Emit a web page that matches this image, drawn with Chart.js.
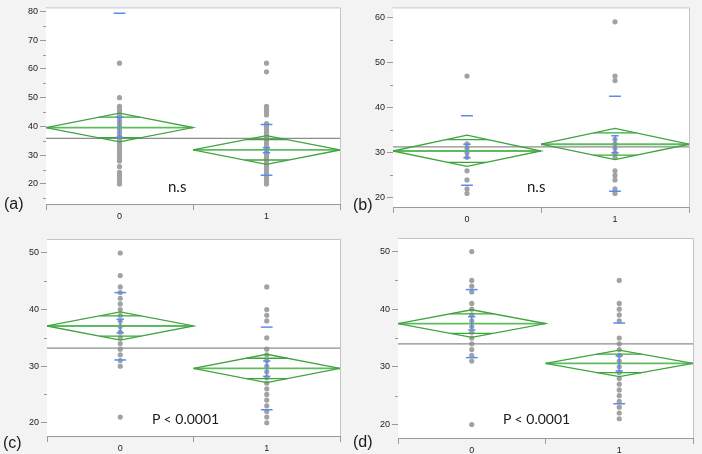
<!DOCTYPE html>
<html><head><meta charset="utf-8">
<script src="https://cdn.jsdelivr.net/npm/chart.js@4"></script>
<style>
html,body{margin:0;padding:0;background:#f3f3f3;}
#wrap{position:relative;width:702px;height:454px;overflow:hidden;background:#f3f3f3;}
canvas{position:absolute;}
.lbl{position:absolute;font-family:"Liberation Sans",Arial,sans-serif;font-size:16px;color:#1a1a1a;line-height:16px;white-space:nowrap;}
.ann{position:absolute;font-family:Lato,"Open Sans",sans-serif;font-size:15px;color:#1a1a1a;line-height:15px;white-space:nowrap;}
.pv{font-size:14px;}
</style></head><body>
<div id="wrap">
<canvas id="ca" width="351" height="227" style="left:0;top:0"></canvas>
<canvas id="cb" width="351" height="227" style="left:351px;top:0"></canvas>
<canvas id="cc" width="351" height="227" style="left:0;top:227px"></canvas>
<canvas id="cd" width="351" height="227" style="left:351px;top:227px"></canvas>
<div class="lbl" style="left:4px;top:196px">(a)</div>
<div class="lbl" style="left:353px;top:197px">(b)</div>
<div class="lbl" style="left:3px;top:435px">(c)</div>
<div class="lbl" style="left:353px;top:434px">(d)</div>
<div class="ann" style="left:168px;top:179px">n.s</div>
<div class="ann" style="left:527px;top:179px">n.s</div>
<div class="ann pv" style="left:152px;top:411px">P &lt; 0.0001</div>
<div class="ann pv" style="left:503px;top:411px">P &lt; 0.0001</div>
</div>
<script>
const categories = ["0", "1"];

// (a)
const a_group0 = [62,50,47,46,45,44,43,42,41,40,39,38,37,36,35,34,33,32,31,30,29,28,26,24,23,22,21,20];
const a_group1 = [62,59,47,46,45,44,41,40,39,38,37,36,35,34,33,32,31,30,29,28,27,26,25,24,23,22,21,20];
const a_means = [39.6, 31.8];
const a_ciHigh = [44.6, 36.8];
const a_ciLow = [34.6, 26.8];
const a_overlapHigh = [43.2, 35.4];
const a_overlapLow = [36.1, 28.3];
const a_sdHigh = [79.4, 40.7];
const a_sdLow = [null, 23.0];
const a_seHigh = [43.3, 32.6];
const a_seLow = [36.2, 30.8];
const a_grandMean = 35.8;

// (b)
const b_group0 = [47,32,31,30,29,26,24,22,21];
const b_group1 = [59,47,46,33,32,31,30,29,26,25,24,22,21];
const b_means = [30.4, 31.9];
const b_ciHigh = [33.9, 35.4];
const b_ciLow = [27.0, 28.5];
const b_overlapHigh = [32.9, 34.4];
const b_overlapLow = [27.9, 29.5];
const b_sdHigh = [38.2, 42.5];
const b_sdLow = [22.8, 21.5];
const b_seHigh = [31.9, 33.8];
const b_seLow = [28.9, 30.0];
const b_grandMean = 31.3;

// (c)
const c_group0 = [50,46,44,43,42,41,40,39,38,37,36,35,34,33,32,31,30,21];
const c_group1 = [44,40,39,38,35,33,32,31,30,29,28,27,26,25,24,23,22,21,20];
const c_means = [37.1, 29.6];
const c_ciHigh = [39.6, 32.1];
const c_ciLow = [34.6, 27.1];
const c_overlapHigh = [38.9, 31.4];
const c_overlapLow = [35.3, 27.8];
const c_sdHigh = [43.0, 36.9];
const c_sdLow = [31.1, 22.3];
const c_seHigh = [38.3, 30.9];
const c_seLow = [35.9, 28.2];
const c_grandMean = 33.2;

// (d)
const d_group0 = [50,45,44,43,41,40,39,38,37,36,35,34,33,32,31,20];
const d_group1 = [45,41,40,39,38,35,34,33,32,31,30,29,28,27,26,25,24,23,22,21];
const d_means = [37.5, 30.6];
const d_ciHigh = [39.9, 32.9];
const d_ciLow = [35.1, 28.3];
const d_overlapHigh = [39.2, 32.2];
const d_overlapLow = [35.8, 29.0];
const d_sdHigh = [43.4, 37.6];
const d_sdLow = [31.6, 23.6];
const d_seHigh = [38.7, 31.9];
const d_seLow = [36.4, 29.3];
const d_grandMean = 34.0;

const panels = [
  {id:'ca', groups:[a_group0,a_group1], means:a_means, ciHigh:a_ciHigh, ciLow:a_ciLow, ovHigh:a_overlapHigh, ovLow:a_overlapLow, sdHigh:a_sdHigh, sdLow:a_sdLow, seHigh:a_seHigh, seLow:a_seLow, grand:a_grandMean,
   yMin:13.0, yMax:81.4, L:46, R:340, T:6, B:204},
  {id:'cb', groups:[b_group0,b_group1], means:b_means, ciHigh:b_ciHigh, ciLow:b_ciLow, ovHigh:b_overlapHigh, ovLow:b_overlapLow, sdHigh:b_sdHigh, sdLow:b_sdLow, seHigh:b_seHigh, seLow:b_seLow, grand:b_grandMean,
   yMin:18.0, yMax:62.2, L:42, R:338, T:6, B:207},
  {id:'cc', groups:[c_group0,c_group1], means:c_means, ciHigh:c_ciHigh, ciLow:c_ciLow, ovHigh:c_overlapHigh, ovLow:c_overlapLow, sdHigh:c_sdHigh, sdLow:c_sdLow, seHigh:c_seHigh, seLow:c_seLow, grand:c_grandMean,
   yMin:17.66, yMax:52.47, L:47, R:340, T:12, B:209},
  {id:'cd', groups:[d_group0,d_group1], means:d_means, ciHigh:d_ciHigh, ciLow:d_ciLow, ovHigh:d_overlapHigh, ovLow:d_overlapLow, sdHigh:d_sdHigh, sdLow:d_sdLow, seHigh:d_seHigh, seLow:d_seLow, grand:d_grandMean,
   yMin:17.66, yMax:52.35, L:47, R:342, T:11, B:211}
];

const BLUE = '#5a8cf0', GREEN = '#3ea53e', GREEN_MEAN = '#5fbb5f', PT = '#a2a2a2', GM = '#8c8c8c';

function seg(x1,y1,x2,y2,color,w){
  return {data:[{x:x1,y:y1},{x:x2,y:y2}], showLine:true, pointRadius:0, borderColor:color, borderWidth:w, fill:false, tension:0};
}

const framePlugin = {
  id:'frame',
  beforeDatasetsDraw(chart){
    const {ctx, chartArea:a} = chart;
    ctx.save(); ctx.fillStyle = '#ffffff'; ctx.fillRect(a.left, a.top, a.right-a.left, a.bottom-a.top); ctx.restore();
  },
  afterDraw(chart){
    const {ctx, chartArea:a} = chart;
    const ys = chart.scales.y;
    ctx.save();
    ctx.strokeStyle = '#c4c4c4'; ctx.lineWidth = 1;
    ctx.beginPath();
    ctx.moveTo(a.left, a.top+0.5); ctx.lineTo(a.right+0.5, a.top+0.5); ctx.lineTo(a.right+0.5, a.bottom);
    ctx.stroke();
    ctx.strokeStyle = '#9a9a9a';
    ctx.beginPath();
    for (let v = Math.ceil(ys.min/5)*5; v <= ys.max; v += 5) {
      if (v % 10 === 0) continue;
      const py = Math.round(ys.getPixelForValue(v)) + 0.5;
      ctx.moveTo(a.left-3, py); ctx.lineTo(a.left, py);
    }
    ctx.stroke();
    ctx.restore();
  }
};

panels.forEach(p => {
  const ds = [];
  [0,1].forEach(g => {
    const c = g;
    if (p.sdHigh[g] != null) ds.push(seg(c-0.04, p.sdHigh[g], c+0.04, p.sdHigh[g], BLUE, 1.5));
    if (p.sdLow[g] != null) ds.push(seg(c-0.04, p.sdLow[g], c+0.04, p.sdLow[g], BLUE, 1.5));
    ds.push(seg(c, p.seLow[g], c, p.seHigh[g], BLUE, 1.5));
    ds.push(seg(c-0.025, p.seHigh[g], c+0.025, p.seHigh[g], BLUE, 1.5));
    ds.push(seg(c-0.025, p.seLow[g], c+0.025, p.seLow[g], BLUE, 1.5));
  });
  [0,1].forEach(g => {
    const c = g, m = p.means[g], hi = p.ciHigh[g], lo = p.ciLow[g];
    ds.push({data:[{x:c-0.5,y:m},{x:c,y:hi},{x:c+0.5,y:m},{x:c,y:lo},{x:c-0.5,y:m}], showLine:true, pointRadius:0, borderColor:GREEN, borderWidth:1.3, fill:false, tension:0});
    ds.push(seg(c-0.5, m, c+0.5, m, GREEN_MEAN, 1.8));
    const hwHi = 0.5*(1-(p.ovHigh[g]-m)/(hi-m));
    const hwLo = 0.5*(1-(m-p.ovLow[g])/(m-lo));
    ds.push(seg(c-hwHi, p.ovHigh[g], c+hwHi, p.ovHigh[g], GREEN, 1.3));
    ds.push(seg(c-hwLo, p.ovLow[g], c+hwLo, p.ovLow[g], GREEN, 1.3));
  });
  ds.push(seg(-0.5, p.grand, 1.5, p.grand, GM, 1.2));
  [0,1].forEach(g => {
    ds.push({data:p.groups[g].map(v => ({x:g, y:v})), pointRadius:2.6, pointBackgroundColor:PT, pointBorderWidth:0, borderColor:PT, showLine:false});
  });

  const W = 351, H = 227;
  new Chart(document.getElementById(p.id), {
    type:'scatter',
    data:{datasets:ds},
    options:{
      responsive:false, animation:false, devicePixelRatio:1,
      layout:{padding:{top:p.T, right:W-p.R, left:0, bottom:0}},
      plugins:{legend:{display:false}, tooltip:{enabled:false}},
      scales:{
        x:{type:'linear', min:-0.5, max:1.5,
           afterFit:(s)=>{s.height = H - p.B;},
           ticks:{stepSize:0.5, autoSkip:false, maxRotation:0, padding:1, color:'#222',
                  font:{family:'"Liberation Sans", Arial, sans-serif', size:9},
                  callback:(v)=> v===0 ? categories[0] : (v===1 ? categories[1] : '')},
           grid:{drawOnChartArea:false, drawTicks:true, tickLength:6,
                 tickColor:(ctx)=> (ctx.tick && (ctx.tick.value===0 || ctx.tick.value===1)) ? 'rgba(0,0,0,0)' : '#9a9a9a'},
           border:{color:'#9a9a9a', width:1}},
        y:{type:'linear', min:p.yMin, max:p.yMax,
           afterFit:(s)=>{s.width = p.L;},
           ticks:{stepSize:10, includeBounds:false, padding:2, color:'#222',
                  font:{family:'"Liberation Sans", Arial, sans-serif', size:9}},
           grid:{drawOnChartArea:false, drawTicks:true, tickLength:6, tickColor:'#9a9a9a'},
           border:{color:'#9a9a9a', width:1}}
      }
    },
    plugins:[framePlugin]
  });
});
</script>
</body></html>
